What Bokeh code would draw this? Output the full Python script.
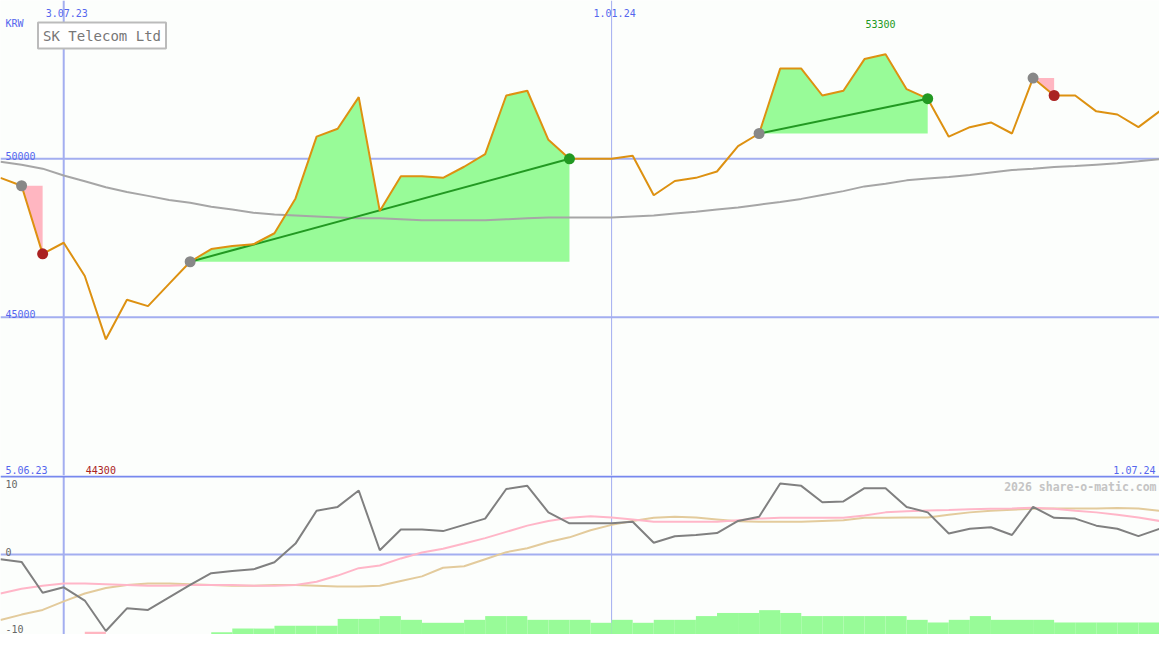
import pandas as pd
from bokeh.plotting import figure
from bokeh.layouts import column
from bokeh.models import Range1d, Span, Label, ColumnDataSource
from bokeh.embed import file_html
from bokeh.resources import INLINE

# ---------------- data ----------------
dates = pd.date_range("2023-06-12", periods=56, freq="7D")
x_start = pd.Timestamp("2023-06-12")
x_end = pd.Timestamp("2024-07-01")

prices = [49400, 49150, 47000, 47350, 46300, 44300, 45550, 45350, 46050, 46750,
          47150, 47250, 47300, 47650, 48750, 50700, 50950, 51950, 48350, 49450,
          49450, 49400, 49750, 50150, 52000, 52150, 50600, 50000, 50000, 50000,
          50100, 48850, 49300, 49400, 49600, 50400, 50800, 52850, 52850, 52000,
          52150, 53150, 53300, 52200, 51900, 50700, 51000, 51150, 50800, 52550,
          52000, 52000, 51500, 51400, 51000, 51500]

ma_long = [49910, 49810, 49690, 49475, 49290, 49105, 48950, 48830, 48700, 48610,
           48490, 48400, 48300, 48240, 48210, 48180, 48150, 48120, 48120, 48090,
           48060, 48060, 48060, 48060, 48090, 48120, 48150, 48150, 48150, 48150,
           48180, 48210, 48270, 48330, 48400, 48460, 48550, 48640, 48735, 48860,
           48980, 49130, 49210, 49320, 49380, 49430, 49490, 49570, 49645, 49690,
           49740, 49770, 49815, 49860, 49920, 49985]

osc = [-0.6, -0.95, -4.9, -4.2, -5.9, -9.8, -6.9, -7.1, -5.5, -3.9,
       -2.4, -2.1, -1.9, -1.0, 1.4, 5.6, 6.1, 8.2, 0.55, 3.2,
       3.2, 3.0, 3.8, 4.6, 8.4, 8.8, 5.4, 4.0, 4.0, 4.0,
       4.2, 1.5, 2.35, 2.5, 2.75, 4.3, 4.85, 9.1, 8.8, 6.7,
       6.8, 8.5, 8.5, 6.1, 5.4, 2.7, 3.3, 3.5, 2.5, 6.1,
       4.7, 4.6, 3.7, 3.3, 2.35, 3.3]

osc_fast = [-5.0, -4.4, -4.0, -3.7, -3.7, -3.8, -3.9, -4.0, -4.0, -3.9,
            -3.9, -3.9, -4.0, -4.0, -3.9, -3.5, -2.7, -1.75, -1.4, -0.5,
            0.25, 0.75, 1.4, 2.1, 2.9, 3.7, 4.3, 4.7, 4.9, 4.75,
            4.5, 4.2, 4.2, 4.2, 4.2, 4.4, 4.6, 4.7, 4.7, 4.7,
            4.7, 5.0, 5.4, 5.55, 5.65, 5.7, 5.8, 5.85, 5.9, 6.0,
            5.85, 5.6, 5.4, 5.1, 4.75, 4.3]

osc_slow = [-8.4, -7.7, -7.1, -6.0, -5.0, -4.3, -3.9, -3.7, -3.7, -3.8,
            -3.9, -4.0, -4.0, -3.9, -3.9, -4.0, -4.1, -4.1, -4.0, -3.4,
            -2.8, -1.7, -1.5, -0.6, 0.3, 0.8, 1.6, 2.2, 3.1, 3.8,
            4.3, 4.7, 4.85, 4.75, 4.5, 4.25, 4.2, 4.2, 4.2, 4.3,
            4.4, 4.7, 4.7, 4.75, 4.75, 5.1, 5.4, 5.6, 5.75, 5.85,
            5.9, 5.9, 5.9, 5.95, 5.9, 5.6]

bar_vals = [0, 0, 0, 0, -0.85, 0, 0, 0, 0, 0,
            0.72, 1.9, 1.9, 2.8, 2.8, 2.8, 5.0, 5.0, 5.9, 4.7,
            3.75, 3.75, 4.7, 5.9, 5.9, 4.7, 4.7, 4.7, 3.75, 4.7,
            3.75, 4.7, 4.7, 5.9, 6.9, 6.9, 7.8, 6.9, 5.9, 5.9,
            5.9, 5.9, 5.9, 4.7, 3.85, 4.7, 5.9, 4.7, 4.7, 4.7,
            3.85, 3.85, 3.85, 3.85, 3.85, 3.85]

trades = [(1, 2), (9, 27), (36, 44), (49, 50)]   # (entry index, exit index)
price_grid = [45000, 50000]
date_marks = [(pd.Timestamp("2023-07-03"), "3.07.23", 2), (pd.Timestamp("2024-01-01"), "1.01.24", 1)]
osc_ticks = [10, 0, -10]

# ---------------- layout constants ----------------
W = 1159
H_TOP = 475
H_LOW = 159
SX = W / 1175.0
SY = (H_TOP + H_LOW) / 650.0
BG = "#fcfefc"
BLUE_TXT = "#5566ee"
GRID = "#a3aef0"
FONT = "DejaVu Sans Mono"

xr = Range1d(x_start, x_end)

# ---------------- top panel ----------------
p1 = figure(width=W, height=H_TOP, x_axis_type="datetime", x_range=xr,
            y_range=Range1d(40000, 55000), output_backend="svg",
            toolbar_location=None, x_axis_location=None, y_axis_location=None,
            min_border=0, background_fill_color=BG, border_fill_color=BG)
p1.grid.visible = False
p1.outline_line_color = None

for lv in price_grid:
    p1.add_layout(Span(location=lv, dimension="width", line_color=GRID, line_width=2, level="underlay"))
    p1.add_layout(Label(x=5 * SX, y=lv, x_units="screen", text=str(lv), text_font=FONT,
                        text_font_size="10px", text_color=BLUE_TXT, text_baseline="alphabetic",
                        y_offset=3 * SY))
for d, txt, lw in date_marks:
    p1.add_layout(Span(location=d, dimension="height", line_color=GRID, line_width=lw, level="underlay"))
    p1.add_layout(Label(x=d, y=H_TOP - 12.7 * SY, y_units="screen", text=txt, text_font=FONT,
                        text_font_size="10px", text_color=BLUE_TXT, text_align="center",
                        text_baseline="alphabetic", x_offset=3))

# trade fills
for a, b in trades:
    entry = prices[a]
    win = prices[b] > entry
    src = ColumnDataSource(dict(x=dates[a:b + 1], y1=[entry] * (b - a + 1), y2=prices[a:b + 1]))
    p1.varea(x="x", y1="y1", y2="y2", source=src, fill_color="#98fb98" if win else "#ffb6c1")

p1.line(dates, ma_long, line_color="#a6a6a6", line_width=2)

for a, b in trades:
    if prices[b] > prices[a]:
        p1.line([dates[a], dates[b]], [prices[a], prices[b]], line_color="#229922", line_width=2)

p1.line(dates, prices, line_color="#dd9111", line_width=2)

for a, b in trades:
    win = prices[b] > prices[a]
    p1.scatter([dates[a]], [prices[a]], size=11, fill_color="#888888", line_color=None)
    p1.scatter([dates[b]], [prices[b]], size=11, fill_color="#229922" if win else "#aa2222", line_color=None)

imax = prices.index(max(prices))
imin = prices.index(min(prices))
p1.add_layout(Label(x=dates[imax], y=H_TOP - 24 * SY, y_units="screen", text=str(max(prices)),
                    text_font=FONT, text_font_size="10px", text_color="#229922",
                    text_align="center", text_baseline="alphabetic", x_offset=-5))
p1.add_layout(Label(x=dates[imin], y=2, y_units="screen", text=str(min(prices)),
                    text_font=FONT, text_font_size="10px", text_color="#aa2222",
                    text_align="center", text_baseline="bottom", x_offset=-5))

p1.add_layout(Label(x=5 * SX, y=H_TOP - 24 * SY, x_units="screen", y_units="screen", text="KRW",
                    text_font=FONT, text_font_size="10px", text_color=BLUE_TXT, text_baseline="alphabetic"))
p1.add_layout(Label(x=5 * SX, y=2, x_units="screen", y_units="screen", text="5.06.23",
                    text_font=FONT, text_font_size="10px", text_color=BLUE_TXT, text_baseline="bottom"))
p1.add_layout(Label(x=W - 4, y=2, x_units="screen", y_units="screen", text="1.07.24",
                    text_font=FONT, text_font_size="10px", text_color=BLUE_TXT, text_align="right",
                    text_baseline="bottom"))
p1.add_layout(Label(x=38 * SX, y=H_TOP - 36 * SY, x_units="screen", y_units="screen", text="SK Telecom Ltd",
                    text_font=FONT, text_font_size="14px", text_color="#777777", text_baseline="middle",
                    border_line_color="#bbbbbb", border_line_width=2, background_fill_color="#ffffff",
                    padding=5))

# ---------------- lower panel ----------------
p2 = figure(width=W, height=H_LOW, x_axis_type="datetime", x_range=xr,
            y_range=Range1d(-10.25, 10.125), output_backend="svg",
            toolbar_location=None, x_axis_location=None, y_axis_location=None,
            min_border=0, background_fill_color=BG, border_fill_color=BG)
p2.grid.visible = False
p2.outline_line_color = None
p2.extra_y_ranges = {"bars": Range1d(0, 163 / 3.2)}

p2.add_layout(Span(location=0, dimension="width", line_color=GRID, line_width=2, level="underlay"))
for d, txt, lw in date_marks:
    p2.add_layout(Span(location=d, dimension="height", line_color=GRID, line_width=lw, level="underlay"))

step = pd.Timedelta(days=7)
bsrc = ColumnDataSource(dict(
    left=list(dates),
    right=[d + step for d in dates],
    top=[abs(v) for v in bar_vals],
    color=["#98fb98" if v >= 0 else "#ffb6c1" for v in bar_vals]))
p2.quad(left="left", right="right", bottom=0, top="top", fill_color="color", line_color=None,
        y_range_name="bars", source=bsrc)

p2.line(dates, osc_slow, line_color="#e3cb9c", line_width=2)
p2.line(dates, osc_fast, line_color="#ffb6c8", line_width=2)
p2.line(dates, osc, line_color="#808080", line_width=2)

p2.add_layout(Span(location=10.125 - 0.12, dimension="width", line_color="#7788ee", line_width=2))

# tick labels of the oscillator panel
p2.add_layout(Label(x=5 * SX, y=H_LOW - 4, x_units="screen", y_units="screen", text=str(osc_ticks[0]),
                    text_font=FONT, text_font_size="10px", text_color="#666666", text_baseline="top"))
p2.add_layout(Label(x=5 * SX, y=85 * SY, x_units="screen", y_units="screen", text=str(osc_ticks[1]),
                    text_font=FONT, text_font_size="10px", text_color="#666666", text_baseline="alphabetic"))
p2.add_layout(Label(x=5 * SX, y=2, x_units="screen", y_units="screen", text=str(osc_ticks[2]),
                    text_font=FONT, text_font_size="10px", text_color="#666666", text_baseline="bottom"))
p2.add_layout(Label(x=W - 3, y=H_LOW - 4, x_units="screen", y_units="screen", text="2026 share-o-matic.com",
                    text_font=FONT, text_font_size="11.5px", text_font_style="bold", text_color="#c4c4c4",
                    text_align="right", text_baseline="top"))

layout = column(p1, p2, spacing=0)
open("out.html", "w").write(file_html(layout, INLINE))
